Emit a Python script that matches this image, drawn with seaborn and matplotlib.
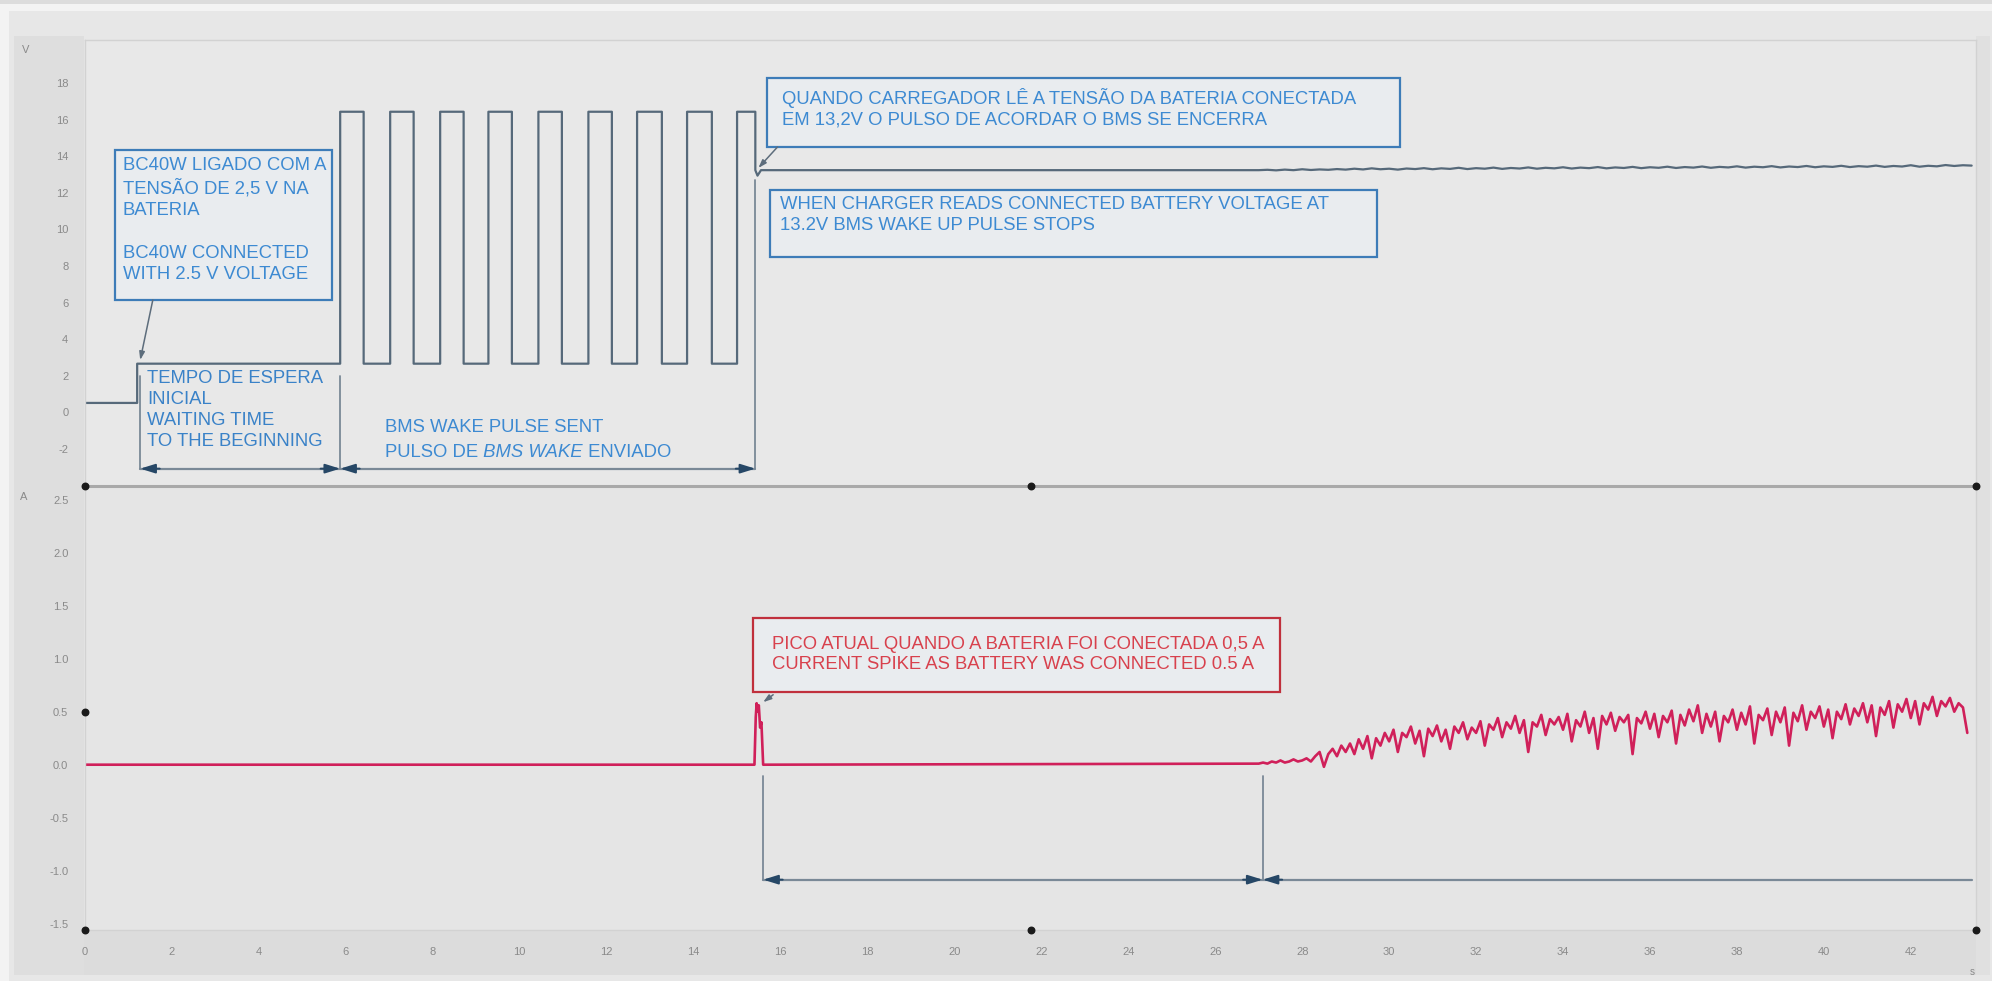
import numpy as np
import pandas as pd
import matplotlib
matplotlib.use("Agg")
import matplotlib.pyplot as plt
import matplotlib.transforms as mtransforms
from matplotlib.patches import Rectangle
import seaborn as sns

# ---------------- data ----------------
# Voltage (V) trace: step levels and edge times (s)
v_idle = 0.5
v_wait = 2.65
v_high = 16.45
v_low = 2.65
v_after = 13.25
v_dip = 12.95
t_wait_start = 1.20
pulse_rise = [5.87, 7.02, 8.17, 9.28, 10.43, 11.58, 12.70, 13.85, 15.00]
pulse_fall = [6.41, 7.56, 8.71, 9.82, 10.97, 12.12, 13.27, 14.42, 15.42]
t_dip = 15.47
t_noise_start = 27.0
# noisy voltage tail, one value every 0.2 s from 27.0 s to 43.4 s
v_tail = [13.25, 13.27, 13.24, 13.28, 13.25, 13.30, 13.26, 13.29, 13.27, 13.31,
          13.28, 13.33, 13.29, 13.35, 13.30, 13.33, 13.28, 13.34, 13.31, 13.36,
          13.30, 13.35, 13.32, 13.38, 13.31, 13.36, 13.33, 13.39, 13.32, 13.37,
          13.34, 13.40, 13.33, 13.38, 13.35, 13.41, 13.34, 13.39, 13.36, 13.42,
          13.35, 13.40, 13.37, 13.43, 13.36, 13.41, 13.38, 13.44, 13.37, 13.42,
          13.39, 13.45, 13.38, 13.43, 13.40, 13.46, 13.39, 13.44, 13.41, 13.47,
          13.40, 13.45, 13.42, 13.48, 13.41, 13.46, 13.43, 13.49, 13.42, 13.47,
          13.44, 13.50, 13.43, 13.48, 13.45, 13.52, 13.44, 13.49, 13.46, 13.53,
          13.48, 13.52, 13.50]
v_tail_step = 0.2

# Current (A) trace
spike_t = [15.40, 15.43, 15.45, 15.48, 15.50, 15.53, 15.56, 15.60]
spike_a = [0.0, 0.45, 0.58, 0.50, 0.56, 0.35, 0.40, 0.0]
# noisy current, one value every 0.1 s from 27.0 s to 43.3 s
a_tail = [0.01, 0.02, 0.01, 0.03, 0.02, 0.04, 0.02, 0.03, 0.05, 0.03,
          0.04, 0.06, 0.03, 0.08, 0.12, -0.02, 0.10, 0.15, 0.08, 0.18,
          0.12, 0.20, 0.10, 0.24, 0.15, 0.27, 0.06, 0.25, 0.18, 0.30,
          0.22, 0.33, 0.12, 0.30, 0.26, 0.36, 0.20, 0.32, 0.08, 0.34,
          0.27, 0.37, 0.22, 0.33, 0.15, 0.36, 0.30, 0.40, 0.24, 0.35,
          0.30, 0.41, 0.18, 0.38, 0.33, 0.44, 0.26, 0.40, 0.34, 0.46,
          0.30, 0.42, 0.12, 0.40, 0.36, 0.47, 0.28, 0.43, 0.38, 0.45,
          0.33, 0.48, 0.22, 0.42, 0.36, 0.50, 0.30, 0.44, 0.15, 0.46,
          0.38, 0.49, 0.32, 0.45, 0.40, 0.47, 0.10, 0.44, 0.39, 0.50,
          0.34, 0.48, 0.26, 0.46, 0.40, 0.51, 0.20, 0.47, 0.37, 0.52,
          0.41, 0.56, 0.30, 0.48, 0.36, 0.50, 0.22, 0.46, 0.40, 0.52,
          0.33, 0.49, 0.38, 0.55, 0.20, 0.47, 0.42, 0.53, 0.28, 0.50,
          0.40, 0.54, 0.18, 0.49, 0.41, 0.56, 0.33, 0.50, 0.44, 0.55,
          0.36, 0.52, 0.25, 0.50, 0.43, 0.57, 0.38, 0.53, 0.46, 0.58,
          0.40, 0.56, 0.27, 0.54, 0.47, 0.60, 0.35, 0.57, 0.50, 0.62,
          0.44, 0.60, 0.38, 0.58, 0.52, 0.64, 0.46, 0.60, 0.55, 0.63,
          0.50, 0.58, 0.54, 0.30]
a_tail_step = 0.1

x_ticks = list(range(0, 43, 2))
v_ticks = [-2, 0, 2, 4, 6, 8, 10, 12, 14, 16, 18, 20]
v_tick_labels = ["-2", "0", "2", "4", "6", "8", "10", "12", "14", "16", "18", ""]
a_ticks = [-1.5, -1.0, -0.5, 0.0, 0.5, 1.0, 1.5, 2.0, 2.5]
a_tick_labels = ["-1.5", "-1.0", "-0.5", "0.0", "0.5", "1.0", "1.5", "2.0", "2.5"]

# ---------------- build the traces ----------------
vt = [0.0, t_wait_start, t_wait_start]
vv = [v_idle, v_idle, v_wait]
for i, (r, f) in enumerate(zip(pulse_rise, pulse_fall)):
    vt += [r, r, f, f]
    vv += [v_low, v_high, v_high, v_after if i == len(pulse_rise) - 1 else v_low]
vt += [t_dip, t_dip + 0.08]
vv += [v_dip, v_after]
tail_t = [t_noise_start + v_tail_step * i for i in range(len(v_tail))]
vt += tail_t
vv += v_tail
volt = pd.DataFrame({"t": vt, "v": vv})

at = [0.0] + spike_t
aa = [0.0] + spike_a
atail_t = [t_noise_start + a_tail_step * i for i in range(len(a_tail))]
at += atail_t
aa += a_tail
curr = pd.DataFrame({"t": at, "a": aa})

# ---------------- style ----------------
sns.set_style("white")
plt.rcParams["font.family"] = ["Liberation Sans", "DejaVu Sans"]

W, H = 1992, 981
fig = plt.figure(figsize=(W / 100, H / 100), dpi=100)
fig.patch.set_facecolor("#f3f3f3")


def px_rect(x0, y0, x1, y1, color, z=-5):
    r = Rectangle((x0 / W, 1 - y1 / H), (x1 - x0) / W, (y1 - y0) / H,
                  transform=fig.transFigure, facecolor=color, edgecolor="none",
                  zorder=z)
    fig.add_artist(r)


px_rect(0, 0, W, 4, "#dcdcdc")
px_rect(9, 11, W, H, "#e7e7e7")
px_rect(14, 36, 84, 975, "#dedede")
px_rect(84, 930, 1976, 975, "#dcdcdc")
px_rect(1976, 36, 1990, 975, "#e0e0e0")

XMAX = 43.5
ax_v = fig.add_axes([85 / W, 1 - 486 / H, 1891 / W, 446 / H])
ax_a = fig.add_axes([85 / W, 1 - 930 / H, 1891 / W, 444 / H], sharex=ax_v)
ax_v.set_facecolor("#e8e8e8")
ax_a.set_facecolor("#e5e5e5")

sns.lineplot(data=volt, x="t", y="v", ax=ax_v, estimator=None, sort=False,
             color="#56697a", linewidth=1.6)
sns.lineplot(data=curr, x="t", y="a", ax=ax_a, estimator=None, sort=False,
             color="#d0205a", linewidth=1.9)

ax_v.set_xlim(0, XMAX)
ax_v.set_ylim(-4.05, 20.38)
ax_a.set_ylim(-1.56, 2.63)

for ax in (ax_v, ax_a):
    ax.set_xlabel("")
    ax.set_ylabel("")
    for s in ax.spines.values():
        s.set_color("#d2d2d2")
        s.set_linewidth(1.0)
    ax.tick_params(axis="both", colors="#a0a0a0", labelcolor="#8a8a8a",
                   labelsize=8, length=5, width=1, direction="out", pad=7)
ax_a.spines["top"].set_color("#a9a9a9")
ax_a.spines["top"].set_linewidth(2.2)

ax_v.set_yticks(v_ticks)
ax_v.set_yticklabels(v_tick_labels)
ax_a.set_yticks(a_ticks)
ax_a.set_yticklabels(a_tick_labels)
ax_a.set_xticks(x_ticks)
ax_a.set_xticklabels([str(x) for x in x_ticks])
ax_v.tick_params(axis="x", bottom=False, labelbottom=False)

# unit labels
fig.text(22 / W, 1 - 50 / H, "V", color="#8a8a8a", fontsize=8, va="center")
fig.text(20 / W, 1 - 497 / H, "A", color="#8a8a8a", fontsize=8, va="center")
fig.text(1970 / W, 1 - 972 / H, "s", color="#8a8a8a", fontsize=7, va="center")

# cursor handles
dot_kw = dict(s=22, color="#1a1a1a", clip_on=False, zorder=10)
ax_a.scatter([0, 0.5, 1, 0, 0.5, 1], [1, 1, 1, 0, 0, 0],
             transform=ax_a.transAxes, **dot_kw)
ax_a.scatter([0], [0.5], transform=mtransforms.blended_transform_factory(
    ax_a.transAxes, ax_a.transData), **dot_kw)

BLUE_T = "#3d8ad2"
BLUE_E = "#3d7cb8"
RED_T = "#d8414d"
RED_E = "#c0303c"
DIM = "#7a8997"
HEAD = "#264766"
FS = 13.3


def box(ax, x0, y0, x1, y1, ec):
    ax.add_patch(Rectangle((x0, y0), x1 - x0, y1 - y0, facecolor="#e9ecef",
                           edgecolor=ec, linewidth=1.6, zorder=4))


def heads(ax, x, y, direction, span):
    # direction +1: head points right at x; -1: head points left at x
    ax.annotate("", xy=(x, y), xytext=(x - direction * span, y),
                arrowprops=dict(arrowstyle="-|>,head_length=0.9,head_width=0.28",
                                color=HEAD, lw=1.4, shrinkA=0, shrinkB=0,
                                mutation_scale=10), zorder=6)


def leader(ax, x0, y0, x1, y1):
    ax.annotate("", xy=(x1, y1), xytext=(x0, y0),
                arrowprops=dict(arrowstyle="-|>,head_length=0.6,head_width=0.2",
                                color="#5d6d7c", lw=1.1, shrinkA=0, shrinkB=0,
                                mutation_scale=8), zorder=6)


# ---- top panel annotations ----
box(ax_v, 0.69, 6.14, 5.68, 14.36, BLUE_E)
ax_v.text(0.87, 13.95, "BC40W LIGADO COM A\nTENSÃO DE 2,5 V NA\nBATERIA\n\nBC40W CONNECTED\nWITH 2.5 V VOLTAGE",
          color=BLUE_T, fontsize=FS, va="top", ha="left", linespacing=1.33, zorder=5)
leader(ax_v, 1.56, 6.14, 1.27, 2.85)

ax_v.text(1.43, 2.3, "TEMPO DE ESPERA\nINICIAL\nWAITING TIME\nTO THE BEGINNING",
          color="#3a82c8", fontsize=FS, va="top", ha="left", linespacing=1.3,
          zorder=5)

dim_y = -3.1
ax_v.plot([1.27, 1.27], [2.0, dim_y], color=DIM, lw=1.3, zorder=3)
ax_v.plot([5.87, 5.87], [2.0, dim_y], color=DIM, lw=1.3, zorder=3)
ax_v.plot([15.42, 15.42], [12.7, dim_y], color=DIM, lw=1.3, zorder=3)
ax_v.plot([1.27, 15.42], [dim_y, dim_y], color=DIM, lw=1.6, zorder=3)
heads(ax_v, 1.27, dim_y, -1, 0.45)
heads(ax_v, 5.87, dim_y, +1, 0.45)
heads(ax_v, 5.87, dim_y, -1, 0.45)
heads(ax_v, 15.42, dim_y, +1, 0.45)

ax_v.text(6.9, -0.82, "BMS WAKE PULSE SENT", color=BLUE_T, fontsize=FS,
          va="center", ha="left", zorder=5)
p1 = ax_v.text(6.9, -2.19, "PULSO DE", color=BLUE_T, fontsize=FS,
               va="center", ha="left", zorder=5)
p2 = ax_v.annotate(" BMS WAKE", xy=(1, 0.5), xycoords=p1, color=BLUE_T,
                   fontsize=FS, va="center", ha="left", style="italic", zorder=5)
ax_v.annotate(" ENVIADO", xy=(1, 0.5), xycoords=p2, color=BLUE_T,
              fontsize=FS, va="center", ha="left", zorder=5)

box(ax_v, 15.70, 14.52, 30.26, 18.30, BLUE_E)
ax_v.text(16.04, 16.63, "QUANDO CARREGADOR LÊ A TENSÃO DA BATERIA CONECTADA\nEM 13,2V O PULSO DE ACORDAR O BMS SE ENCERRA",
          color=BLUE_T, fontsize=FS, va="center", ha="left", linespacing=1.3, zorder=5)
leader(ax_v, 15.93, 14.52, 15.49, 13.37)

box(ax_v, 15.76, 8.49, 29.71, 12.16, BLUE_E)
ax_v.text(15.99, 10.77, "WHEN CHARGER READS CONNECTED BATTERY VOLTAGE AT\n13.2V BMS WAKE UP PULSE STOPS",
          color=BLUE_T, fontsize=FS, va="center", ha="left", linespacing=1.3, zorder=5)

# ---- bottom panel annotations ----
box(ax_a, 15.37, 0.689, 27.48, 1.387, RED_E)
ax_a.text(15.81, 1.04, "PICO ATUAL QUANDO A BATERIA FOI CONECTADA 0,5 A\nCURRENT SPIKE AS BATTERY WAS CONNECTED 0.5 A",
          color=RED_T, fontsize=FS, va="center", ha="left", linespacing=1.3, zorder=5)
leader(ax_a, 15.83, 0.66, 15.6, 0.59)

adim = -1.085
ax_a.plot([15.6, 15.6], [-0.11, adim], color=DIM, lw=1.3, zorder=3)
ax_a.plot([27.09, 27.09], [-0.11, adim], color=DIM, lw=1.3, zorder=3)
ax_a.plot([15.6, 43.4], [adim, adim], color=DIM, lw=1.6, zorder=3)
heads(ax_a, 15.6, adim, -1, 0.45)
heads(ax_a, 27.09, adim, +1, 0.45)
heads(ax_a, 27.09, adim, -1, 0.45)

fig.savefig("out.png", dpi=100, facecolor=fig.get_facecolor())
